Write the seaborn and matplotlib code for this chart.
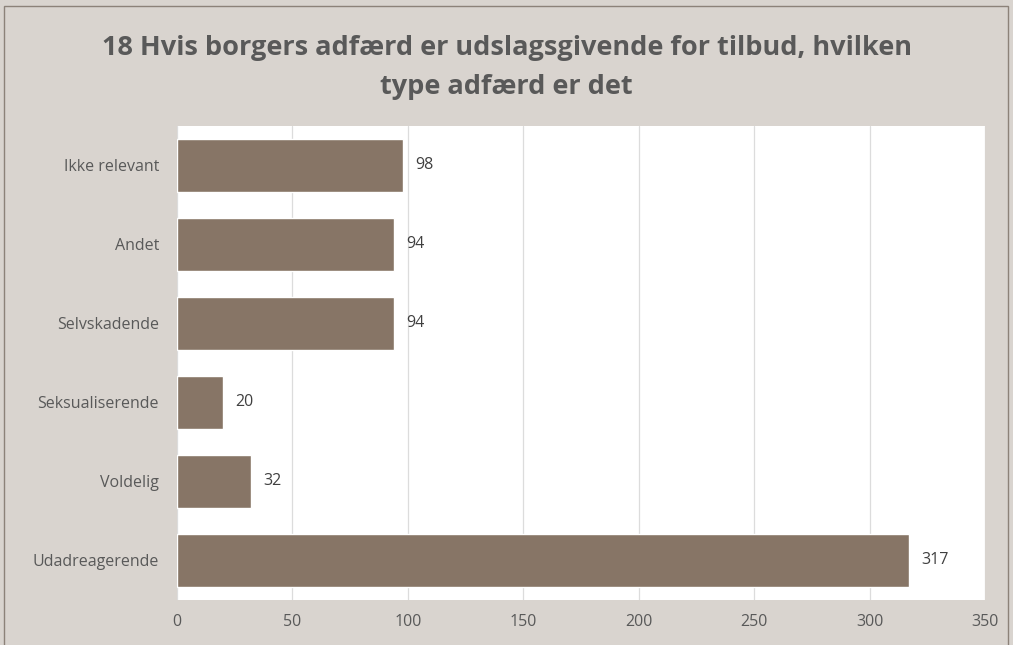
import matplotlib
matplotlib.use("Agg")
import matplotlib.pyplot as plt
import seaborn as sns
import pandas as pd
from matplotlib.patches import Rectangle

categories = ["Ikke relevant", "Andet", "Selvskadende", "Seksualiserende", "Voldelig", "Udadreagerende"]
counts = [98, 94, 94, 20, 32, 317]
x_ticks = [0, 50, 100, 150, 200, 250, 300, 350]
title = "18 Hvis borgers adfærd er udslagsgivende for tilbud, hvilken\ntype adfærd er det"

bg = "#D9D4CF"
bar_color = "#877566"
text_color = "#595959"

sns.set_theme(style="white")
plt.rcParams["font.family"] = ["Open Sans", "DejaVu Sans"]

df = pd.DataFrame({"category": categories, "count": counts})

fig = plt.figure(figsize=(10.13, 6.45), dpi=100, facecolor=bg)
ax = fig.add_axes([0.1747, 0.0698, 0.7977, 0.7349])
ax.set_facecolor("white")

sns.barplot(data=df, x="count", y="category", color=bar_color, saturation=1,
            width=0.66, ax=ax, zorder=3)

ax.set_xlim(0, 350)
ax.set_xticks(x_ticks)
ax.set_xticklabels([str(t) for t in x_ticks], fontsize=11.5, color=text_color)
ax.tick_params(axis="y", labelsize=11.5, labelcolor=text_color, length=0, pad=13)
ax.tick_params(axis="x", length=0, pad=10)
ax.grid(axis="x", color="#DCDCDC", linewidth=0.9, zorder=0)
ax.set_axisbelow(True)
for s in ax.spines.values():
    s.set_visible(False)
ax.set_xlabel("")
ax.set_ylabel("")

for i, v in enumerate(counts):
    ax.annotate(str(v), xy=(v, i), xytext=(9, 0), textcoords="offset points",
                va="center", ha="left", fontsize=11.5, color="#404040")

fig.text(0.5, 0.895, title, ha="center", va="center", fontsize=19.5,
         fontweight="bold", color=text_color, linespacing=1.65)

# outer frame
fig.patches.append(Rectangle((0.004, -0.01), 0.991, 1.0, transform=fig.transFigure,
                             fill=False, edgecolor="#8C8279", linewidth=1))

fig.savefig("out.png", dpi=100, facecolor=bg)
